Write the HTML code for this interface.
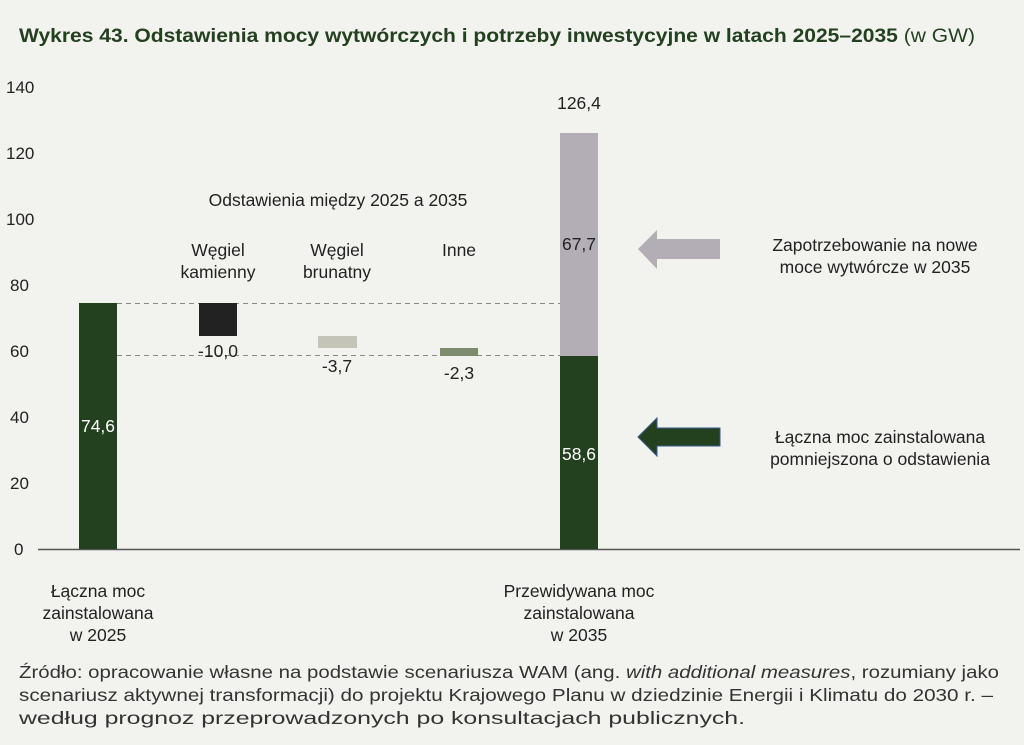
<!DOCTYPE html>
<html><head><meta charset="utf-8"><style>
body{margin:0;background:#f2f2ee;}
svg{display:block;font-family:"Liberation Sans",sans-serif;}
</style></head><body>
<svg width="1024" height="745" viewBox="0 0 1024 745">
<rect width="1024" height="745" fill="#f2f2ee"/>
<text x="19" y="42" font-size="19.5" font-weight="bold" fill="#23401f" textLength="956" lengthAdjust="spacingAndGlyphs">Wykres 43. Odstawienia mocy wytwórczych i potrzeby inwestycyjne w latach 2025–2035 <tspan font-weight="normal">(w GW)</tspan></text>
<g font-size="17" fill="#222">
<text x="6" y="93">140</text><text x="6" y="159">120</text><text x="6" y="225">100</text>
<text x="10" y="291">80</text><text x="10" y="357">60</text><text x="10" y="423">40</text>
<text x="10" y="489">20</text><text x="14" y="555">0</text>
</g>
<line x1="38" y1="549.5" x2="1020" y2="549.5" stroke="#555" stroke-width="1.5"/>
<line x1="117" y1="303.5" x2="560" y2="303.5" stroke="#888" stroke-dasharray="5,4"/>
<line x1="117" y1="355.5" x2="560" y2="355.5" stroke="#888" stroke-dasharray="5,4"/>
<rect x="79" y="303" width="38" height="246" fill="#23401f"/>
<rect x="199" y="303" width="38" height="33" fill="#222"/>
<rect x="318" y="336" width="39" height="12" fill="#c4c4b8"/>
<rect x="440" y="348" width="38" height="8" fill="#7d8a6e"/>
<rect x="560" y="133" width="38" height="223" fill="#b3adb5"/>
<rect x="560" y="356" width="38" height="193" fill="#23401f"/>
<g font-size="17.5" fill="#222" text-anchor="middle">
<text x="98" y="432" fill="#fff">74,6</text>
<text x="218" y="357">-10,0</text>
<text x="337" y="372">-3,7</text>
<text x="459" y="379">-2,3</text>
<text x="579" y="250">67,7</text>
<text x="579" y="460" fill="#fff">58,6</text>
<text x="579" y="109">126,4</text>
<text x="338" y="206">Odstawienia między 2025 a 2035</text>
<text x="218" y="256">Węgiel</text><text x="218" y="278">kamienny</text>
<text x="337" y="256">Węgiel</text><text x="337" y="278">brunatny</text>
<text x="459" y="256">Inne</text>
<text x="875" y="251">Zapotrzebowanie na nowe</text><text x="875" y="273">moce wytwórcze w 2035</text>
<text x="880" y="443">Łączna moc zainstalowana</text><text x="880" y="465">pomniejszona o odstawienia</text>
<text x="98" y="597">Łączna moc</text><text x="98" y="619">zainstalowana</text><text x="98" y="641">w 2025</text>
<text x="579" y="597">Przewidywana moc</text><text x="579" y="619">zainstalowana</text><text x="579" y="641">w 2035</text>
</g>
<polygon points="638,249 657,230 657,239 720,239 720,259 657,259 657,269" fill="#b3adb5"/>
<polygon points="638,437 657,418 657,428 720,428 720,446 657,446 657,456" fill="#23401f" stroke="#3a5a8a" stroke-width="1"/>
<g font-size="17.5" fill="#333">
<text x="19" y="678" textLength="980" lengthAdjust="spacingAndGlyphs">Źródło: opracowanie własne na podstawie scenariusza WAM (ang. <tspan font-style="italic">with additional measures</tspan>, rozumiany jako</text>
<text x="19" y="701" textLength="974" lengthAdjust="spacingAndGlyphs">scenariusz aktywnej transformacji) do projektu Krajowego Planu w dziedzinie Energii i Klimatu do 2030 r. –</text>
<text x="19" y="724" textLength="726" lengthAdjust="spacingAndGlyphs">według prognoz przeprowadzonych po konsultacjach publicznych.</text>
</g>
</svg>
</body></html>
